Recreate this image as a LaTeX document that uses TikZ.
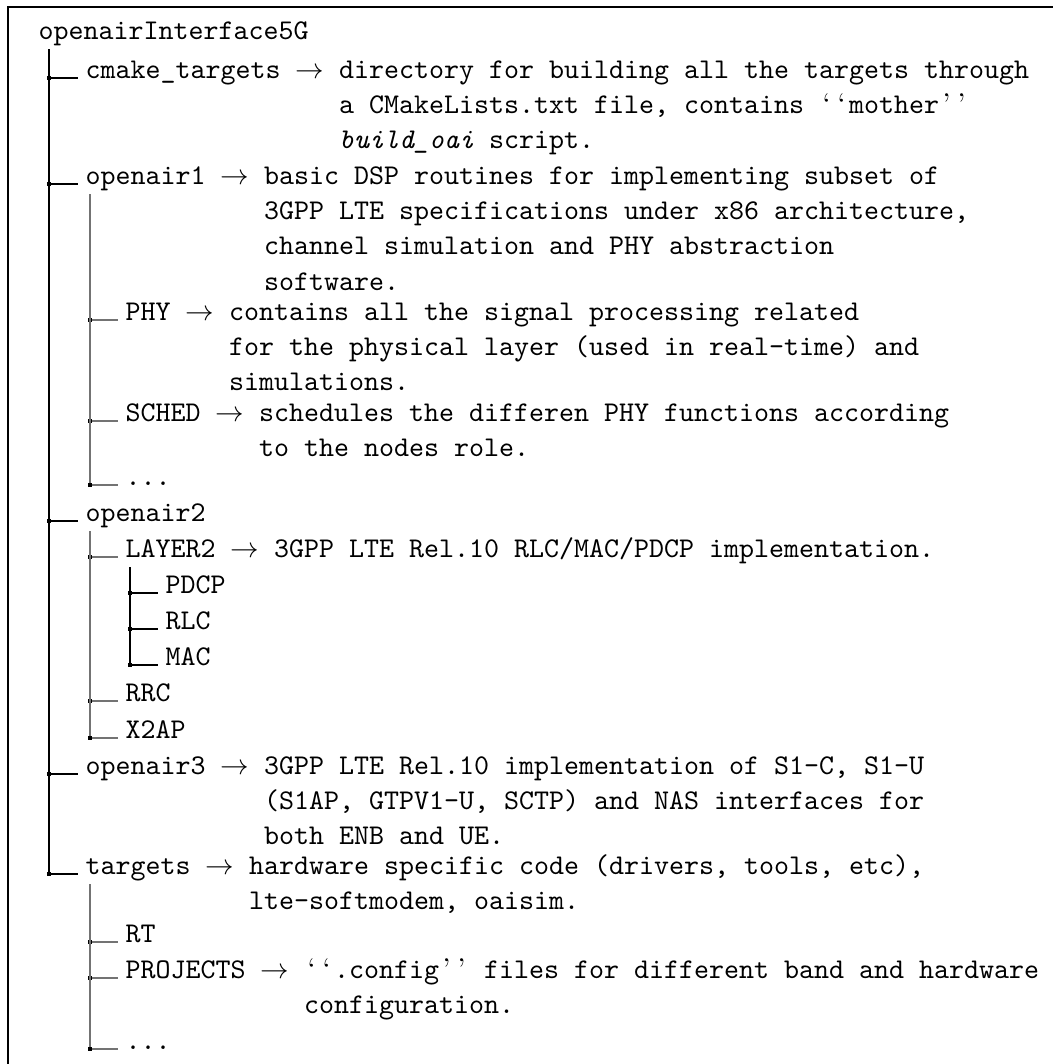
\documentclass[tikz,border=0pt]{standalone}
\usepackage{amsmath,amssymb}
\usepackage{xcolor}
\usepackage{tikz}

\definecolor{twiggray}{gray}{0.45}
\renewcommand{\arraystretch}{1.035}
\newcommand{\dsc}[1]{\begin{tabular}[t]{@{}l@{}}#1\end{tabular}}
\newcommand{\oq}{\makebox[0.525em]{\rmfamily ‘}}
\newcommand{\cq}{\makebox[0.525em]{\rmfamily ’}}

\begin{document}
\begin{tikzpicture}[x=0.35pt, y=-0.35pt,
  item/.style={anchor=base west, inner sep=0pt, font=\ttfamily},
  knot/.style={rectangle, fill=black, inner sep=0pt, minimum size=1.15pt},
  twig/.style={line width=0.4pt, shorten >=2.5pt},
  stem/.style={line width=0.4pt},
]
\useasboundingbox (0,0) rectangle (1053,1064);

% --- frame (cut by the page on the right and at the bottom) ---
\draw[line width=0.4pt] (1053,7) -- (8,7) -- (8,1064);

% --- directory entries ---
\node[item] (root) at (38,39) {openairInterface5G};

\node[item] (cmake) at (85,78) {cmake\_targets $\rightarrow$ \dsc{directory for building all the targets through\\a CMakeLists.txt file, contains \oq\oq mother\cq\cq\\\textit{build\_oai} script.}};

\node[item] (oai1) at (85,184) {openair1 $\rightarrow$ \dsc{basic DSP routines for implementing subset of\\3GPP LTE specifications under x86 architecture,\\channel simulation and PHY abstraction\\software.}};
\node[item] (phy) at (125,320) {PHY $\rightarrow$ \dsc{contains all the signal processing related\\for the physical layer (used in real-time) and\\simulations.}};
\node[item] (sched) at (125,421) {SCHED $\rightarrow$ \dsc{schedules the differen PHY functions according\\to the nodes role.}};
\node[item] (dotsA) at (125,485) {...};

\node[item] (oai2) at (85,521) {openair2};
\node[item] (layer2) at (125,557) {LAYER2 $\rightarrow$ 3GPP LTE Rel.10 RLC/MAC/PDCP implementation.};
\node[item] (pdcp) at (165,593) {PDCP};
\node[item] (rlc) at (165,629) {RLC};
\node[item] (mac) at (165,665) {MAC};
\node[item] (rrc) at (125,701) {RRC};
\node[item] (xtwoap) at (125,738) {X2AP};

\node[item] (oai3) at (85,774) {openair3 $\rightarrow$ \dsc{3GPP LTE Rel.10 implementation of S1-C, S1-U\\(S1AP, GTPV1-U, SCTP) and NAS interfaces for\\both ENB and UE.}};

\node[item] (targets) at (85,874) {targets $\rightarrow$ \dsc{hardware specific code (drivers, tools, etc),\\lte-softmodem, oaisim.}};
\node[item] (rt) at (125,942) {RT};
\node[item] (projects) at (125,978) {PROJECTS $\rightarrow$ \dsc{\oq\oq.config\cq\cq{} files for different band and hardware\\configuration.}};
\node[item] (dotsB) at (125,1049) {...};

% --- junction squares ---
\node[knot] (kcmake)   at (49,78)  {};
\node[knot] (koai1)    at (49,184) {};
\node[knot] (koai2)    at (49,521) {};
\node[knot] (koai3)    at (49,774) {};
\node[knot] (ktargets) at (49,874) {};
\node[knot] (kphy)     at (90,320) {};
\node[knot] (ksched)   at (90,421) {};
\node[knot] (kdotsA)   at (90,485) {};
\node[knot] (klayer2)  at (90,557) {};
\node[knot] (krrc)     at (90,701) {};
\node[knot] (kxtwoap)  at (90,738) {};
\node[knot] (kpdcp)    at (130,593) {};
\node[knot] (krlc)     at (130,629) {};
\node[knot] (kmac)     at (130,665) {};
\node[knot] (krt)      at (90,942) {};
\node[knot] (kprojects) at (90,978) {};
\node[knot] (kdotsB)   at (90,1049) {};

% --- stems ---
\coordinate (sroot)    at (49,49);
\coordinate (soai1)    at (90,194);
\coordinate (soai2)    at (90,531);
\coordinate (slayer2)  at (130,567);
\coordinate (stargets) at (90,884);
\draw[stem] (sroot) -- (ktargets);
\draw[stem, twiggray] (soai1) -- (kdotsA);
\draw[stem, twiggray] (soai2) -- (kxtwoap);
\draw[stem] (slayer2) -- (kmac);
\draw[stem, twiggray] (stargets) -- (kdotsB);

% --- twigs ---
\draw[twig] (kcmake) -- (cmake.base west);
\draw[twig] (koai1) -- (oai1.base west);
\draw[twig] (koai2) -- (oai2.base west);
\draw[twig] (koai3) -- (oai3.base west);
\draw[twig] (ktargets) -- (targets.base west);
\draw[twig, twiggray] (kphy) -- (phy.base west);
\draw[twig, twiggray] (ksched) -- (sched.base west);
\draw[twig, twiggray] (kdotsA) -- (dotsA.base west);
\draw[twig, twiggray] (klayer2) -- (layer2.base west);
\draw[twig, twiggray] (krrc) -- (rrc.base west);
\draw[twig, twiggray] (kxtwoap) -- (xtwoap.base west);
\draw[twig] (kpdcp) -- (pdcp.base west);
\draw[twig] (krlc) -- (rlc.base west);
\draw[twig] (kmac) -- (mac.base west);
\draw[twig, twiggray] (krt) -- (rt.base west);
\draw[twig, twiggray] (kprojects) -- (projects.base west);
\draw[twig, twiggray] (kdotsB) -- (dotsB.base west);
\end{tikzpicture}
\end{document}
